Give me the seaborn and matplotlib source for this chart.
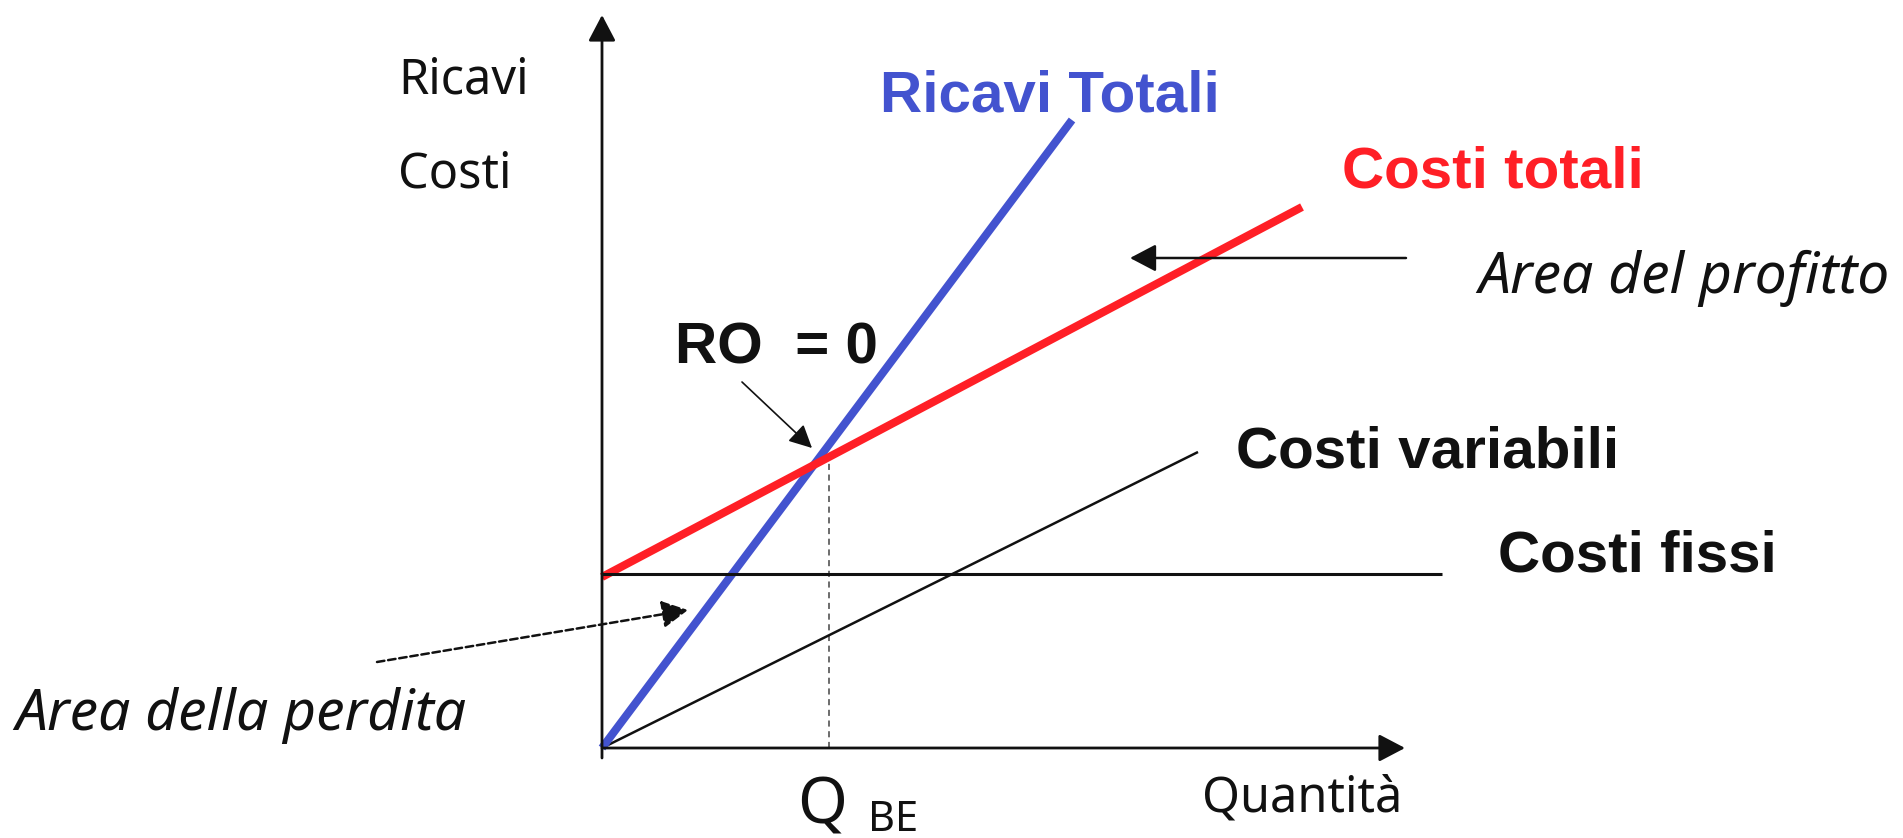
"""
Break-even chart (diagramma di redditività) — recreated with seaborn.
"""

import pandas as pd
import matplotlib
matplotlib.use("Agg")
import matplotlib.pyplot as plt
import seaborn as sns

sns.set_theme(style="white")
plt.rcParams["font.family"] = ["Noto Sans", "DejaVu Sans"]

# ── Data (units: quantity / value) ─────────────────────────────────────────────
RICAVI_Q = [0.0, 47.0]
RICAVI_V = [0.0, 62.8]

COSTI_TOT_Q = [0.0, 70.0]
COSTI_TOT_V = [17.1, 54.1]

COSTI_FISSI_Q = [0.0, 84.0]
COSTI_FISSI_V = [17.4, 17.4]

COSTI_VAR_Q = [0.0, 59.6]
COSTI_VAR_V = [0.0, 29.6]

BE_Q = 22.7
BE_V = 29.4

BLUE = "#4353cf"
RED = "#ff1f26"
BLACK = "#111111"

# ── Figure ────────────────────────────────────────────────────────────────────
fig = plt.figure(figsize=(19.03, 8.38), dpi=100)
ax = fig.add_axes([0, 0, 1, 1])
ax.set_xlim(-60.2, 130.1)
ax.set_ylim(-9.0, 74.8)
ax.set_axis_off()

lines = [
    (COSTI_VAR_Q, COSTI_VAR_V, BLACK, 1.8, 2),
    (RICAVI_Q, RICAVI_V, BLUE, 5.8, 3),
    (COSTI_TOT_Q, COSTI_TOT_V, RED, 5.8, 4),
    (COSTI_FISSI_Q, COSTI_FISSI_V, BLACK, 2.2, 5),
]
for xs, ys, c, lw, z in lines:
    df = pd.DataFrame({"q": xs, "v": ys})
    sns.lineplot(data=df, x="q", y="v", color=c, lw=lw, ax=ax, zorder=z,
                 solid_capstyle="butt")

# break-even guide
ax.plot([BE_Q, BE_Q], [0, BE_V], ls=(0, (4, 3)), color="#444", lw=1.1, zorder=1)

# axes with arrows
head = dict(arrowstyle="-|>,head_length=0.8,head_width=0.42", color=BLACK,
            lw=2.0, mutation_scale=20, shrinkA=0, shrinkB=0)
ax.annotate("", xy=(0, 73.3), xytext=(0, -1.0), arrowprops=head, zorder=6)
ax.annotate("", xy=(80.3, 0), xytext=(0, 0), arrowprops=head, zorder=6)

# annotation arrows
ax.annotate("", xy=(52.8, 49.0), xytext=(80.4, 49.0),
            arrowprops=dict(head, lw=1.8), zorder=6)
ax.annotate("", xy=(21.0, 30.0), xytext=(14.0, 36.6),
            arrowprops=dict(head, lw=1.2,
                            arrowstyle="-|>,head_length=0.7,head_width=0.35"),
            zorder=6)
ax.annotate("", xy=(8.6, 13.8), xytext=(-22.5, 8.6),
            arrowprops=dict(head, lw=1.8, ls=(0, (3, 1.5))), zorder=6)

# ── Text ──────────────────────────────────────────────────────────────────────
reg = dict(fontsize=35, color=BLACK, ha="left", va="baseline")
bold = dict(fontsize=42, fontweight="bold", ha="left", va="baseline",
            family=["Liberation Sans", "DejaVu Sans"])
ital = dict(fontsize=41, style="italic", color=BLACK, ha="left", va="baseline")

ax.text(-20.4, 65.5, "Ricavi", **reg)
ax.text(-20.4, 56.1, "Costi", **reg)
ax.text(60.0, -6.3, "Quantità", **reg)
ax.text(19.5, -7.5, "Q", fontsize=46, color=BLACK, ha="left", va="baseline")
ax.text(26.6, -8.3, "BE", fontsize=30, color=BLACK, ha="left", va="baseline")

ax.text(27.8, 63.6, "Ricavi Totali", color=BLUE, **bold)
ax.text(74.0, 56.0, "Costi totali", color=RED, **bold)
ax.text(7.3, 38.5, "RO  = 0", color=BLACK, **bold)
ax.text(63.4, 28.1, "Costi variabili", color=BLACK, **bold)
ax.text(89.6, 17.6, "Costi fissi", color=BLACK, **bold)

ax.text(87.6, 45.5, "Area del profitto", **ital)
ax.text(-58.7, 1.8, "Area della perdita", **ital)

fig.savefig("out.png", dpi=100)
plt.close(fig)
